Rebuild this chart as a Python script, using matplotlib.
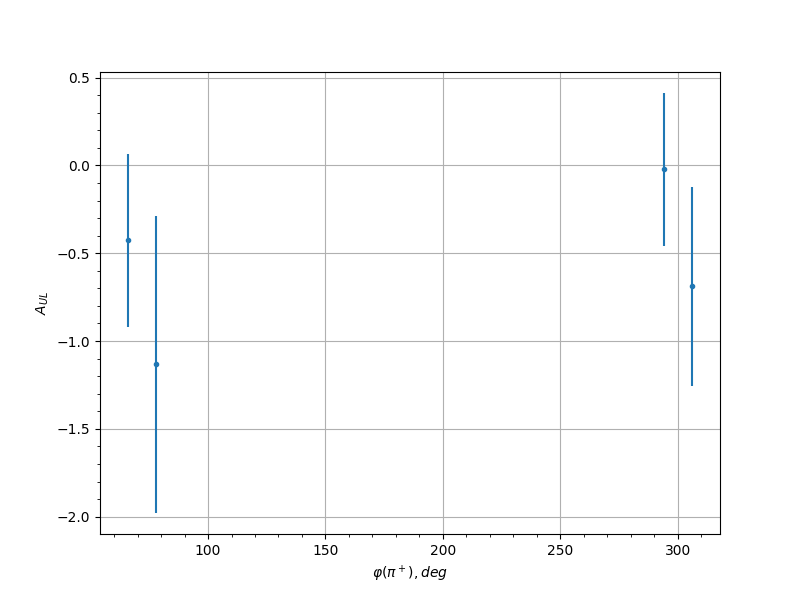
import matplotlib
matplotlib.use("Agg")
import matplotlib.pyplot as plt

phi = [66, 78, 294, 306]
a_ul = [-0.427, -1.133, -0.023, -0.689]
err = [0.493, 0.846, 0.435, 0.565]

fig, ax = plt.subplots(figsize=(8, 6), dpi=100)
ax.errorbar(phi, a_ul, yerr=err, fmt='.')
ax.set_xlabel(r'$\varphi(\pi^+), deg$')
ax.set_ylabel(r'$A_{UL}$')
ax.minorticks_on()
ax.grid(True, which='major')
fig.savefig("out.png")
